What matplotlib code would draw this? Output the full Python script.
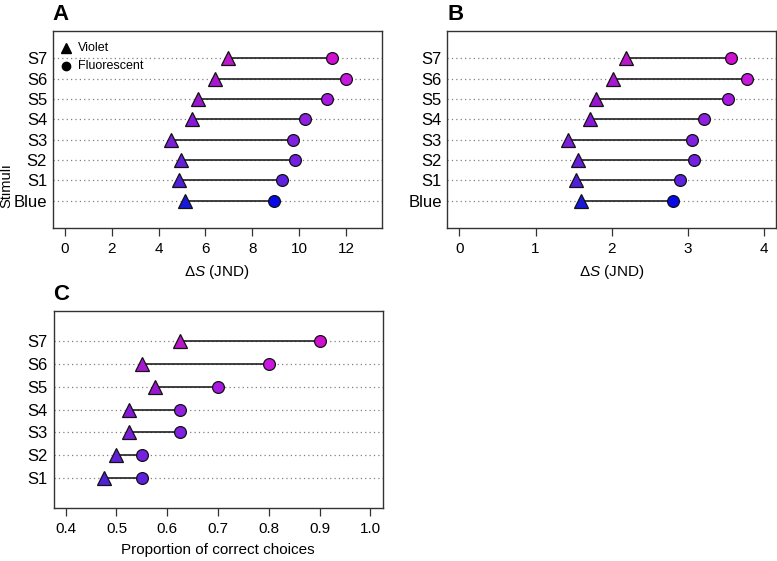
import matplotlib
matplotlib.use("Agg")
import matplotlib.pyplot as plt

plt.rcParams['font.family'] = ['Liberation Sans', 'DejaVu Sans']
plt.rcParams['mathtext.fontset'] = 'custom'
plt.rcParams['mathtext.rm'] = 'Liberation Sans'
plt.rcParams['mathtext.it'] = 'Liberation Sans:italic'

# ---- data ----
stimuli_ab = ["Blue", "S1", "S2", "S3", "S4", "S5", "S6", "S7"]
violet_a = [5.11, 4.86, 4.95, 4.51, 5.43, 5.67, 6.42, 6.96]
fluor_a = [8.92, 9.26, 9.80, 9.72, 10.26, 11.20, 12.00, 11.39]
violet_b = [1.60, 1.53, 1.56, 1.42, 1.71, 1.79, 2.02, 2.19]
fluor_b = [2.80, 2.90, 3.08, 3.06, 3.22, 3.53, 3.78, 3.57]

stimuli_c = ["S1", "S2", "S3", "S4", "S5", "S6", "S7"]
violet_c = [0.475, 0.500, 0.525, 0.525, 0.575, 0.550, 0.625]
fluor_c = [0.550, 0.550, 0.625, 0.625, 0.700, 0.800, 0.900]

tri_colors = {"Blue": "#1818d8", "S1": "#5020d8", "S2": "#6420d8", "S3": "#7c20d8",
              "S4": "#8818d8", "S5": "#9818d0", "S6": "#a818d0", "S7": "#b818c8"}
circ_colors = {"Blue": "#0808e8", "S1": "#6020e0", "S2": "#7420e0", "S3": "#8020e0",
               "S4": "#9020e0", "S5": "#a818e0", "S6": "#c818e0", "S7": "#d010d0"}

W, H = 777, 561
fig = plt.figure(figsize=(W / 100, H / 100), dpi=100)

def px_axes(l, t, r, b):
    return fig.add_axes([l / W, 1 - b / H, (r - l) / W, (b - t) / H])

spine_col = "#333333"

def draw_panel(ax, names, vio, flu, xlim, xticks, xticklabels, ylim, xlabel, letter):
    ys = list(range(1, len(names) + 1))
    for y in ys:
        ax.axhline(y, color="#808080", lw=0.9, ls=(0, (1, 2.5)), zorder=1)
    for y, n, v, f in zip(ys, names, vio, flu):
        ax.plot([v, f], [y, y], color="#202020", lw=1.2, zorder=2)
        ax.plot(f, y, marker="o", ms=8.5, mfc=circ_colors[n], mec="#111111", mew=0.9, zorder=3)
        ax.plot(v, y, marker="^", ms=9.5, mfc=tri_colors[n], mec="#111111", mew=0.9, zorder=4)
    ax.set_xlim(*xlim)
    ax.set_ylim(*ylim)
    ax.set_yticks(ys)
    ax.set_yticklabels(names, fontsize=12)
    ax.tick_params(axis="y", length=0, pad=4)
    ax.set_xticks(xticks)
    ax.set_xticklabels(xticklabels, fontsize=11)
    ax.tick_params(axis="x", length=6, width=0.9, color=spine_col, pad=4, direction="out")
    for s in ax.spines.values():
        s.set_color(spine_col)
        s.set_linewidth(1.0)
    ax.set_xlabel(xlabel, fontsize=11, labelpad=5)
    ax.text(0.0, 1.03, letter, transform=ax.transAxes, fontsize=16, fontweight="bold",
            ha="left", va="bottom")

axA = px_axes(52.7, 30.7, 381.7, 228.3)
draw_panel(axA, stimuli_ab, violet_a, fluor_a, (-0.52, 13.52), [0, 2, 4, 6, 8, 10, 12],
           ["0", "2", "4", "6", "8", "10", "12"], (-0.36, 9.36), r"$\Delta\mathit{S}$ (JND)", "A")
# legend
axA.plot(0.04, 0.912, marker="^", ms=7, color="black", transform=axA.transAxes, clip_on=False)
axA.plot(0.04, 0.821, marker="o", ms=6, color="black", transform=axA.transAxes, clip_on=False)
axA.text(0.077, 0.912, "Violet", transform=axA.transAxes, fontsize=9, va="center")
axA.text(0.077, 0.821, "Fluorescent", transform=axA.transAxes, fontsize=9, va="center")

axB = px_axes(447.3, 30.7, 776, 228.3)
draw_panel(axB, stimuli_ab, violet_b, fluor_b, (-0.16, 4.16), [0, 1, 2, 3, 4],
           ["0", "1", "2", "3", "4"], (-0.36, 9.36), r"$\Delta\mathit{S}$ (JND)", "B")

axC = px_axes(53.5, 310.7, 382.5, 508.3)
draw_panel(axC, stimuli_c, violet_c, fluor_c, (0.376, 1.024), [0.4, 0.5, 0.6, 0.7, 0.8, 0.9, 1.0],
           ["0.4", "0.5", "0.6", "0.7", "0.8", "0.9", "1.0"], (-0.32, 8.32),
           "Proportion of correct choices", "C")

fig.text(6 / W, 1 - 186 / H, "Stimuli", rotation=90, fontsize=10.5, ha="center", va="center")

fig.savefig("out.png", dpi=100)
